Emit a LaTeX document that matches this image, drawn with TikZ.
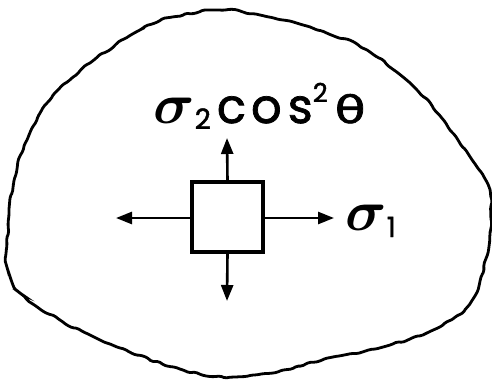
\documentclass[tikz,border=0pt]{standalone}
\usepackage{amsmath}
\usepackage{fontspec}
\setmainfont{Poppins}
\newfontfamily\lblfont[FakeBold=1.5]{Poppins}
\newfontfamily\grkfont[FakeBold=1.5]{DejaVu Sans}
\usepackage{tikz}
\usetikzlibrary{arrows.meta,decorations.pathmorphing}

\begin{document}
\begin{tikzpicture}[
    x=0.5pt, y=-0.5pt,
    blob/.style={line width=1.4pt, rounded corners=0.8pt,
        decorate, decoration={random steps, segment length=3pt, amplitude=0.6pt}},
    elembox/.style={draw, rectangle, line width=1.6pt, minimum width=35.5pt, minimum height=35pt, inner sep=0pt},
    arrow/.style={-{Triangle[length=8pt,width=6pt]}, line width=1.3pt},
    lbl/.style={inner sep=0pt, anchor=base west, font=\lblfont},
]
    \pgfmathsetseed{7}
    \useasboundingbox (0,0) rectangle (492,380);

    % outline of the body
    \draw[blob] plot[smooth cycle, tension=0.6] coordinates {
        (6,253) (13,187) (27,140) (50,100) (90,63) (140,30) (173,17) (217,10)
        (260,15) (310,27) (367,50) (417,90) (450,130) (477,167) (490,193)
        (490,233) (481,277) (467,307) (433,330) (383,347) (333,357) (283,370)
        (233,377) (183,370) (117,347) (60,320) (20,293) (7,267)};

    % element
    \node[elembox] (elem) at (227.5,217) {};

    % free ends of the arrows
    \coordinate (tipN) at (227,138);
    \coordinate (tipS) at (227,301);
    \coordinate (tipW) at (116,218);
    \coordinate (tipE) at (334,218);

    \draw[arrow] (elem.north) -- (tipN);
    \draw[arrow] (elem.south) -- (tipS);
    \draw[arrow] (elem.west |- tipW) -- (tipW);
    \draw[arrow] (elem.east |- tipE) -- (tipE);

    % labels
    \node[lbl] (sigtwo) at (153,123) {%
        \scalebox{1.15}{\fontsize{25}{25}\selectfont$\boldsymbol{\sigma}$}%
        \raisebox{-3pt}{\fontsize{14}{14}\selectfont 2}\hspace{3pt}%
        {\fontsize{24}{24}\selectfont c\kern2.5pt o\kern3pt s}%
        \raisebox{10.5pt}{\fontsize{13}{13}\selectfont 2}\hspace{3.5pt}%
        \scalebox{1.4}[1.05]{\fontsize{18}{18}\grkfont θ}};
    \node[lbl] (sigone) at (345,230) {%
        \scalebox{1.15}{\fontsize{25}{25}\selectfont$\boldsymbol{\sigma}$}%
        \raisebox{-3.5pt}{\fontsize{14}{14}\selectfont 1}};

\end{tikzpicture}
\end{document}
